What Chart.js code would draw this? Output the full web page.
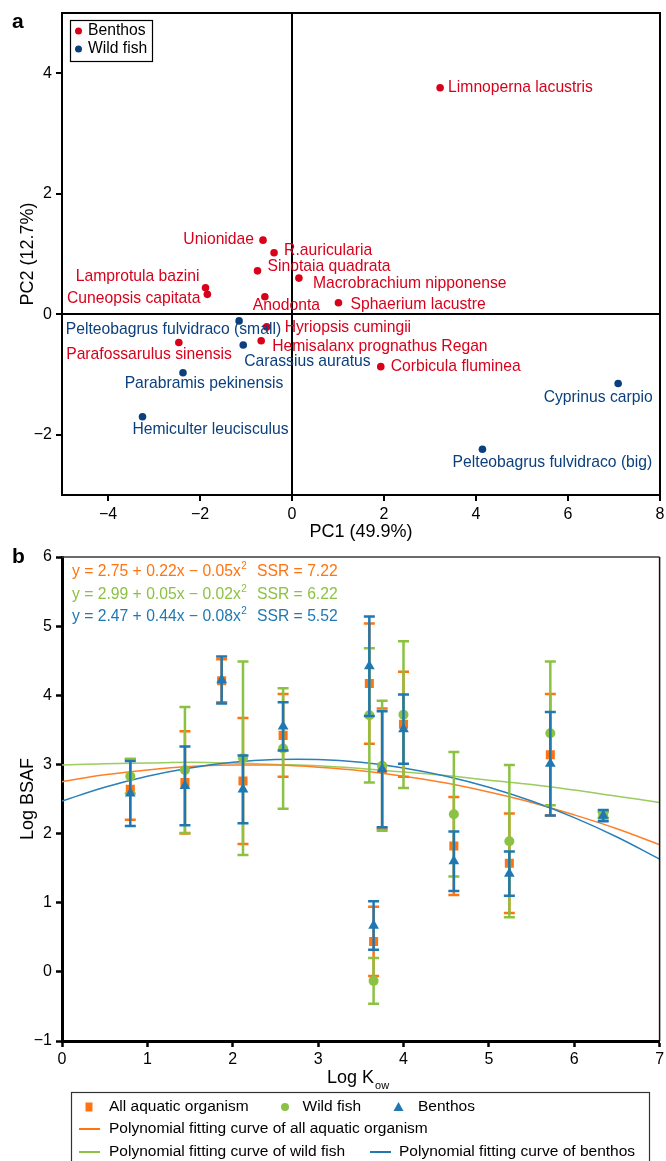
<!DOCTYPE html>
<html>
<head>
<meta charset="utf-8">
<script src="https://cdn.jsdelivr.net/npm/chart.js@4.4.0/dist/chart.umd.min.js"></script>
<style>
  body { margin: 0; background: #fff; }
  #wrap { position: relative; width: 666px; height: 1161px; overflow: hidden; }
  canvas { position: absolute; left: 0; }
  #pca { top: 0; }
  #bsaf { top: 548px; }
</style>
</head>
<body>
<div id="wrap">
  <canvas id="pca" width="666" height="548"></canvas>
  <canvas id="bsaf" width="666" height="613"></canvas>
</div>
<script>
// ---- panel a: PCA scores ----
const benthosNames = ['Limnoperna lacustris', 'Unionidae', 'R.auricularia', 'Sinotaia quadrata',
  'Macrobrachium nipponense', 'Anodonta', 'Lamprotula bazini', 'Cuneopsis capitata',
  'Sphaerium lacustre', 'Hyriopsis cumingii', 'Hemisalanx prognathus Regan',
  'Parafossarulus sinensis', 'Corbicula fluminea'];
const benthosPC1 = [3.22, -0.63, -0.39, -0.75, 0.15, -0.59, -1.88, -1.84, 1.01, -0.55, -0.67, -2.46, 1.93];
const benthosPC2 = [3.76, 1.23, 1.02, 0.72, 0.60, 0.29, 0.44, 0.33, 0.19, -0.21, -0.44, -0.47, -0.87];

const fishNames = ['Pelteobagrus fulvidraco (small)', 'Carassius auratus', 'Parabramis pekinensis',
  'Hemiculter leucisculus', 'Cyprinus carpio', 'Pelteobagrus fulvidraco (big)'];
const fishPC1 = [-1.15, -1.06, -2.37, -3.25, 7.09, 4.14];
const fishPC2 = [-0.11, -0.51, -0.97, -1.70, -1.15, -2.24];

const pc1Ticks = [-4, -2, 0, 2, 4, 6, 8];
const pc2Ticks = [-2, 0, 2, 4];

// ---- panel b: log BSAF vs log Kow ----
const logKow = [0.80, 1.44, 1.87, 2.12, 2.59, 3.60, 3.65, 3.75, 4.00, 4.59, 5.24, 5.72, 6.34];
const allMean = [2.64, 2.74, 4.21, 2.76, 3.42, 4.17, 0.44, 2.94, 3.58, 1.82, 1.57, 3.14, 2.27];
const allErr = [0.44, 0.74, 0.31, 0.91, 0.60, 0.87, 0.50, 0.87, 0.76, 0.71, 0.72, 0.88, 0.05];
const fishMean = [2.83, 2.92, null, 3.09, 3.23, 3.71, -0.13, 2.98, 3.72, 2.28, 1.89, 3.45, 2.27];
const fishErr = [0.25, 0.91, null, 1.40, 0.87, 0.97, 0.33, 0.94, 1.06, 0.90, 1.10, 1.04, 0.04];
const benthosMean = [2.58, 2.69, 4.22, 2.64, 3.55, 4.42, 0.67, 2.93, 3.51, 1.60, 1.42, 3.01, 2.26];
const benthosErr = [0.47, 0.57, 0.34, 0.49, 0.35, 0.72, 0.35, 0.84, 0.50, 0.43, 0.32, 0.75, 0.08];

// fitted curves
const curveX = [0, 0.5, 1, 1.5, 2, 2.5, 3, 3.5, 4, 4.5, 5, 5.5, 6, 6.5, 7];
const curveAll = [2.75, 2.85, 2.92, 2.97, 2.99, 2.99, 2.96, 2.91, 2.83, 2.73, 2.60, 2.45, 2.27, 2.07, 1.84];
const curveFish = [2.99, 3.01, 3.02, 3.03, 3.02, 3.00, 2.98, 2.94, 2.89, 2.84, 2.77, 2.71, 2.63, 2.54, 2.45];
const curveBenthos = [2.47, 2.67, 2.83, 2.95, 3.03, 3.07, 3.07, 3.03, 2.95, 2.83, 2.67, 2.47, 2.23, 1.95, 1.63];

const eqText = ['y = 2.75 + 0.22x \u2212 0.05x', 'y = 2.99 + 0.05x \u2212 0.02x', 'y = 2.47 + 0.44x \u2212 0.08x'];
const ssrText = ['SSR = 7.22', 'SSR = 6.22', 'SSR = 5.52'];

// label placement next to each dot: [dx, dy, align]
const benthosLabelPos = [[8, 0, 'left'], [-9, 0, 'right'], [10, -2, 'left'], [10, -4, 'left'],
  [14, 6, 'left'], [-12, 9, 'left'], [-6, -11, 'right'], [-7, 4, 'right'], [12, 2, 'left'],
  [18, 1, 'left'], [11, 6, 'left'], [53, 12, 'right'], [10, 0, 'left']];
const fishLabelPos = [[42, 9, 'right'], [1, 17, 'left'], [21, 11, 'center'], [68, 13, 'center'],
  [-20, 14, 'center'], [70, 13, 'center']];

const RED = '#d9001b', NAVY = '#0b3f7d';
const ORANGE = '#ff7410', GREEN = '#8cc243', BLUE = '#1f78b2';
const FONT = '"Liberation Sans", Arial, Helvetica, sans-serif';

Chart.defaults.font.family = FONT;
Chart.defaults.color = '#000';
Chart.defaults.animation = false;

function minusFmt(v) {
  return v < 0 ? '\u2212' + Math.abs(v) : String(v);
}

// ---------- panel a ----------
const pcaDecor = {
  id: 'pcaDecor',
  afterDatasetsDraw(chart) {
    const ctx = chart.ctx;
    ctx.save();
    ctx.font = '15.7px ' + FONT;
    ctx.textBaseline = 'middle';
    const groups = [[0, benthosNames, benthosLabelPos, RED], [1, fishNames, fishLabelPos, NAVY]];
    groups.forEach(([di, names, pos, col]) => {
      const meta = chart.getDatasetMeta(di);
      ctx.fillStyle = col;
      meta.data.forEach((pt, i) => {
        ctx.textAlign = pos[i][2];
        ctx.fillText(names[i], pt.x + pos[i][0], pt.y + pos[i][1]);
      });
    });
    ctx.restore();
  },
  afterDraw(chart) {
    const ctx = chart.ctx;
    const a = chart.chartArea;
    ctx.save();
    // top and right frame
    ctx.strokeStyle = '#000';
    ctx.lineWidth = 2;
    ctx.beginPath();
    ctx.moveTo(a.left, a.top);
    ctx.lineTo(a.right, a.top);
    ctx.lineTo(a.right, a.bottom);
    ctx.stroke();
    // legend box
    ctx.lineWidth = 1.2;
    ctx.strokeRect(70.5, 20.5, 82, 41);
    ctx.font = '15.7px ' + FONT;
    ctx.textBaseline = 'middle';
    ctx.textAlign = 'left';
    [[RED, 'Benthos', 31], [NAVY, 'Wild fish', 49]].forEach(([c, t, y]) => {
      ctx.fillStyle = c;
      ctx.beginPath();
      ctx.arc(78.5, y, 3.5, 0, Math.PI * 2);
      ctx.fill();
      ctx.fillStyle = '#000';
      ctx.fillText(t, 88, y);
    });
    // panel letter
    ctx.font = 'bold 21px ' + FONT;
    ctx.textBaseline = 'alphabetic';
    ctx.fillText('a', 12, 28);
    ctx.restore();
  }
};

const zeroLine = c => (c.tick && c.tick.value === 0) ? '#000' : 'rgba(0,0,0,0)';

new Chart(document.getElementById('pca'), {
  type: 'scatter',
  data: {
    datasets: [
      {
        label: 'Benthos',
        data: benthosPC1.map((x, i) => ({ x: x, y: benthosPC2[i] })),
        backgroundColor: RED, borderColor: RED, pointRadius: 3.8, borderWidth: 0
      },
      {
        label: 'Wild fish',
        data: fishPC1.map((x, i) => ({ x: x, y: fishPC2[i] })),
        backgroundColor: NAVY, borderColor: NAVY, pointRadius: 3.8, borderWidth: 0
      }
    ]
  },
  options: {
    responsive: false,
    devicePixelRatio: 1,
    layout: { padding: { top: 13, right: 6, bottom: 0, left: 0 } },
    plugins: { legend: { display: false }, tooltip: { enabled: false } },
    scales: {
      x: {
        type: 'linear', min: -5, max: 8,
        afterBuildTicks: s => { s.ticks = pc1Ticks.map(v => ({ value: v })); },
        afterFit: s => { s.height = 53; s.paddingLeft = 0; s.paddingRight = 0; },
        ticks: { font: { size: 16 }, padding: 4, maxRotation: 0, callback: minusFmt },
        grid: { color: zeroLine, lineWidth: 2, tickColor: '#000', tickLength: 6, tickWidth: 2 },
        border: { color: '#000', width: 2 },
        title: { display: true, text: 'PC1 (49.9%)', font: { size: 18 }, padding: { top: 0, bottom: 5 } }
      },
      y: {
        type: 'linear', min: -3, max: 5,
        afterBuildTicks: s => { s.ticks = pc2Ticks.map(v => ({ value: v })); },
        afterFit: s => { s.width = 62; s.paddingTop = 0; s.paddingBottom = 0; },
        ticks: { font: { size: 16 }, padding: 4, callback: minusFmt },
        grid: { color: zeroLine, lineWidth: 2, tickColor: '#000', tickLength: 6, tickWidth: 2 },
        border: { color: '#000', width: 2 },
        title: { display: true, text: 'PC2 (12.7%)', font: { size: 18 }, padding: { top: 17, bottom: 0 } }
      }
    }
  },
  plugins: [pcaDecor]
});

// ---------- panel b ----------
const errorBars = {
  id: 'errorBars',
  beforeDatasetDraw(chart, args) {
    const ds = chart.data.datasets[args.index];
    if (!ds.errors) return;
    const ys = chart.scales.y;
    const ctx = chart.ctx;
    ctx.save();
    ctx.strokeStyle = ds.borderColor;
    ctx.lineWidth = 2.5;
    ctx.lineCap = 'butt';
    args.meta.data.forEach((pt, i) => {
      const v = ds.data[i];
      const e = ds.errors[i];
      if (v.y === null || e === null) return;
      const top = ys.getPixelForValue(v.y + e);
      const bot = ys.getPixelForValue(v.y - e);
      const x = pt.x;
      ctx.beginPath();
      ctx.moveTo(x, top); ctx.lineTo(x, bot);
      ctx.moveTo(x - 5.5, top); ctx.lineTo(x + 5.5, top);
      ctx.moveTo(x - 5.5, bot); ctx.lineTo(x + 5.5, bot);
      ctx.stroke();
    });
    ctx.restore();
  }
};

const bsafDecor = {
  id: 'bsafDecor',
  afterDraw(chart) {
    const ctx = chart.ctx;
    const a = chart.chartArea;
    ctx.save();
    // thin top / right frame
    ctx.lineWidth = 1.5;
    ctx.strokeStyle = '#3a3a3a';
    ctx.beginPath();
    ctx.moveTo(a.left, a.top); ctx.lineTo(a.right, a.top);
    ctx.stroke();
    ctx.strokeStyle = '#111';
    ctx.beginPath();
    ctx.moveTo(a.right, a.top); ctx.lineTo(a.right, a.bottom);
    ctx.stroke();

    // equations
    const cols = [ORANGE, GREEN, BLUE];
    ctx.textBaseline = 'middle';
    ctx.textAlign = 'left';
    eqText.forEach((t, i) => {
      const y = 23.7 + i * 22.5;
      ctx.fillStyle = cols[i];
      ctx.font = '15.7px ' + FONT;
      ctx.fillText(t, 72, y);
      const w = ctx.measureText(t).width;
      ctx.font = '10px ' + FONT;
      ctx.fillText('2', 72 + w + 0.5, y - 5);
      ctx.font = '15.7px ' + FONT;
      ctx.fillText(ssrText[i], 257, y);
    });

    // x axis title with subscript
    ctx.fillStyle = '#000';
    ctx.font = '18px ' + FONT;
    ctx.fillText('Log K', 327, 530);
    const kw = ctx.measureText('Log K').width;
    ctx.font = '11px ' + FONT;
    ctx.fillText('ow', 327 + kw + 1, 538);

    // legend
    ctx.strokeStyle = '#333';
    ctx.lineWidth = 1.2;
    ctx.strokeRect(71.5, 544.5, 578, 100);
    ctx.font = '15.5px ' + FONT;
    const r1 = 559, r2 = 581, r3 = 604;
    ctx.fillStyle = ORANGE;
    ctx.fillRect(85.5, r1 - 4.5, 7, 9);
    ctx.fillStyle = GREEN;
    ctx.beginPath(); ctx.arc(285, r1, 4, 0, Math.PI * 2); ctx.fill();
    ctx.fillStyle = BLUE;
    ctx.beginPath();
    ctx.moveTo(398.5, r1 - 5); ctx.lineTo(403.5, r1 + 4); ctx.lineTo(393.5, r1 + 4);
    ctx.closePath(); ctx.fill();
    ctx.fillStyle = '#000';
    ctx.fillText('All aquatic organism', 109, r1);
    ctx.fillText('Wild fish', 302.5, r1);
    ctx.fillText('Benthos', 418, r1);
    ctx.lineWidth = 2;
    [[ORANGE, 79, r2], [GREEN, 79, r3], [BLUE, 370, r3]].forEach(([c, x, y]) => {
      ctx.strokeStyle = c;
      ctx.beginPath(); ctx.moveTo(x, y); ctx.lineTo(x + 21, y); ctx.stroke();
    });
    ctx.fillText('Polynomial fitting curve of all aquatic organism', 109, r2);
    ctx.fillText('Polynomial fitting curve of wild fish', 109, r3);
    ctx.fillText('Polynomial fitting curve of benthos', 399, r3);

    // panel letter
    ctx.font = 'bold 21px ' + FONT;
    ctx.textBaseline = 'alphabetic';
    ctx.fillText('b', 12, 15);
    ctx.restore();
  }
};

new Chart(document.getElementById('bsaf'), {
  type: 'scatter',
  data: {
    datasets: [
      {
        label: 'Benthos',
        data: logKow.map((x, i) => ({ x: x, y: benthosMean[i] })),
        errors: benthosErr,
        pointStyle: 'triangle', pointRadius: 6.2,
        backgroundColor: BLUE, borderColor: BLUE, borderWidth: 0, order: 1
      },
      {
        label: 'Wild fish',
        data: logKow.map((x, i) => ({ x: x, y: fishMean[i] })),
        errors: fishErr,
        pointStyle: 'circle', pointRadius: 5,
        backgroundColor: GREEN, borderColor: GREEN, borderWidth: 0, order: 2
      },
      {
        label: 'All aquatic organism',
        data: logKow.map((x, i) => ({ x: x, y: allMean[i] })),
        errors: allErr,
        pointStyle: 'rect', pointRadius: 6.4,
        backgroundColor: ORANGE, borderColor: ORANGE, borderWidth: 0, order: 3
      },
      {
        label: 'Polynomial fitting curve of benthos', type: 'line',
        data: curveX.map((x, i) => ({ x: x, y: curveBenthos[i] })),
        borderColor: '#2a80b9', borderWidth: 1.5, pointRadius: 0, tension: 0.4, fill: false, order: 4
      },
      {
        label: 'Polynomial fitting curve of all aquatic organism', type: 'line',
        data: curveX.map((x, i) => ({ x: x, y: curveAll[i] })),
        borderColor: '#ff7f27', borderWidth: 1.5, pointRadius: 0, tension: 0.4, fill: false, order: 5
      },
      {
        label: 'Polynomial fitting curve of wild fish', type: 'line',
        data: curveX.map((x, i) => ({ x: x, y: curveFish[i] })),
        borderColor: '#9ccb5e', borderWidth: 1.5, pointRadius: 0, tension: 0.4, fill: false, order: 6
      }
    ]
  },
  options: {
    responsive: false,
    devicePixelRatio: 1,
    layout: { padding: { top: 9, right: 3, bottom: 90, left: 0 } },
    plugins: { legend: { display: false }, tooltip: { enabled: false } },
    scales: {
      x: {
        type: 'linear', min: 0, max: 7,
        afterFit: s => { s.height = 30; s.paddingLeft = 0; s.paddingRight = 0; },
        ticks: { stepSize: 1, font: { size: 16 }, padding: 3, maxRotation: 0 },
        grid: { drawOnChartArea: false, tickColor: '#000', tickLength: 6, tickWidth: 2.5 },
        border: { color: '#000', width: 3 }
      },
      y: {
        type: 'linear', min: -1, max: 6,
        afterFit: s => { s.width = 62; s.paddingTop = 0; s.paddingBottom = 0; },
        ticks: { stepSize: 1, font: { size: 16 }, padding: 4, callback: minusFmt },
        grid: { drawOnChartArea: false, tickColor: '#000', tickLength: 6, tickWidth: 2.5 },
        border: { color: '#000', width: 3 },
        title: { display: true, text: 'Log BSAF', font: { size: 18 }, padding: { top: 17, bottom: 0 } }
      }
    }
  },
  plugins: [errorBars, bsafDecor]
});
</script>
</body>
</html>
